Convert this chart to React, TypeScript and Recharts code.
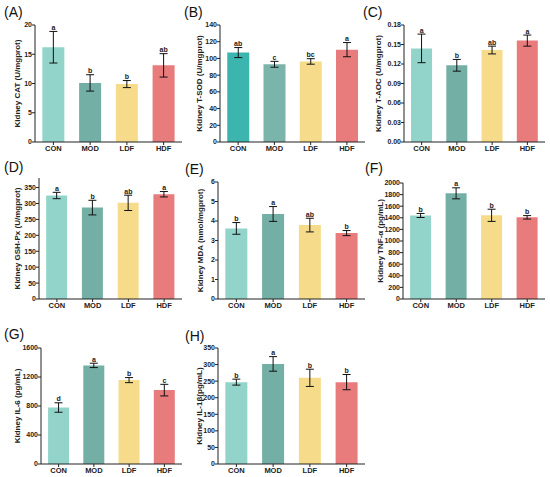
import { ComposedChart, Bar, Line, XAxis, YAxis, ErrorBar, LabelList, Cell } from 'recharts'

const groups = ['CON', 'MOD', 'LDF', 'HDF']

// (A) CAT
const catMean = [16.2, 10.1, 9.9, 13.1]
const catSd = [2.7, 1.4, 0.6, 2.0]
const catSig = ['a', 'b', 'b', 'ab']
const catTicks = [0, 5, 10, 15, 20]

// (B) T-SOD
const sodMean = [107, 93, 96.4, 110.5]
const sodSd = [6, 3.5, 3.3, 8.5]
const sodSig = ['ab', 'c', 'bc', 'a']
const sodTicks = [0, 20, 40, 60, 80, 100, 120, 140]

// (C) T-AOC
const aocMean = [0.144, 0.118, 0.1415, 0.156]
const aocSd = [0.022, 0.009, 0.006, 0.0085]
const aocSig = ['a', 'b', 'ab', 'a']
const aocTicks = [0, 0.03, 0.06, 0.09, 0.12, 0.15, 0.18]

// (D) GSH-Px
const gshMean = [325, 287, 302, 329]
const gshSd = [10, 23, 24, 8.5]
const gshSig = ['a', 'b', 'ab', 'a']
const gshTicks = [0, 50, 100, 150, 200, 250, 300, 350]

// (E) MDA
const mdaMean = [3.62, 4.36, 3.79, 3.38]
const mdaSd = [0.3, 0.38, 0.35, 0.13]
const mdaSig = ['b', 'a', 'ab', 'b']
const mdaTicks = [0, 1, 2, 3, 4, 5, 6]

// (F) TNF-α
const tnfMean = [1440, 1822, 1443, 1408]
const tnfSd = [35, 95, 105, 30]
const tnfSig = ['b', 'a', 'b', 'b']
const tnfTicks = [0, 200, 400, 600, 800, 1000, 1200, 1400, 1600, 1800, 2000]

// (G) IL-6
const il6Mean = [779, 1360, 1157, 1019]
const il6Sd = [65, 30, 35, 80]
const il6Sig = ['d', 'a', 'b', 'c']
const il6Ticks = [0, 400, 800, 1200, 1600]

// (H) IL-1β
const il1Mean = [247, 302, 260, 247]
const il1Sd = [9, 22, 26, 23]
const il1Sig = ['b', 'a', 'b', 'b']
const il1Ticks = [0, 50, 100, 150, 200, 250, 300, 350]

const palette = ['#93d4ca', '#74afa5', '#f6dc8a', '#e87b7b']
const paletteB = ['#3bb5ae', '#7ab4aa', '#f6dc8a', '#e87b7b']

const ink = '#222'

const panels = [
  { title: '(A)', tx: 4, ty: 17, label: 'Kidney CAT (U/mgprot)', mean: catMean, sd: catSd, sig: catSig, ticks: catTicks, max: 20,
    x0: 35, x1: 182, yTop: 25, yBot: 142, labelX: 17, colors: palette },
  { title: '(B)', tx: 184, ty: 17, label: 'Kidney T-SOD (U/mgprot)', mean: sodMean, sd: sodSd, sig: sodSig, ticks: sodTicks, max: 140,
    x0: 220, x1: 365, yTop: 25, yBot: 142, labelX: 199, colors: paletteB },
  { title: '(C)', tx: 363, ty: 17, label: 'Kidney T-AOC (U/mgprot)', mean: aocMean, sd: aocSd, sig: aocSig, ticks: aocTicks, max: 0.18,
    x0: 404, x1: 545, yTop: 25, yBot: 142, labelX: 378, colors: palette, fmt: (v: number) => v.toFixed(2) },
  { title: '(D)', tx: 4, ty: 172, label: 'Kidney GSH-Px (U/mgprot)', mean: gshMean, sd: gshSd, sig: gshSig, ticks: gshTicks, max: 380,
    x0: 39, x1: 182, yTop: 178, yBot: 299, labelX: 17, colors: palette },
  { title: '(E)', tx: 185, ty: 174, label: 'Kidney MDA (nmol/mgprot)', mean: mdaMean, sd: mdaSd, sig: mdaSig, ticks: mdaTicks, max: 6,
    x0: 218, x1: 365, yTop: 182, yBot: 299, labelX: 200, colors: palette },
  { title: '(F)', tx: 365, ty: 173, label: 'Kidney TNF-α (pg/mL)', mean: tnfMean, sd: tnfSd, sig: tnfSig, ticks: tnfTicks, max: 2000,
    x0: 403, x1: 545, yTop: 183, yBot: 299, labelX: 380, colors: palette },
  { title: '(G)', tx: 4, ty: 339, label: 'Kidney IL-6 (pg/mL)', mean: il6Mean, sd: il6Sd, sig: il6Sig, ticks: il6Ticks, max: 1600,
    x0: 41, x1: 182, yTop: 348, yBot: 464, labelX: 17, colors: palette },
  { title: '(H)', tx: 185, ty: 341, label: 'Kidney IL-1β(pg/mL)', mean: il1Mean, sd: il1Sd, sig: il1Sig, ticks: il1Ticks, max: 350,
    x0: 218, x1: 365, yTop: 348, yBot: 464, labelX: 199, colors: palette },
]

// significance letter just above the top of the error bar
function SigLetter(props: any) {
  const { x, y, value } = props
  return (
    <text x={x} y={y - 1.5} textAnchor="middle" fontSize={7} fontWeight={700} fill={ink}>
      {value}
    </text>
  )
}

function Panel({ p }: { p: any }) {
  const left = p.labelX - 10
  const top = p.yTop - 8
  const yw = p.x0 - left
  const W = yw + (p.x1 - p.x0) + 2
  const H = 8 + (p.yBot - p.yTop) + 16
  const data = groups.map((g, i) => ({
    name: g,
    mean: p.mean[i],
    sd: p.sd[i],
    top: p.mean[i] + p.sd[i],
    sig: p.sig[i],
  }))

  return (
    <div style={{ position: 'absolute', left, top }}>
      <ComposedChart width={W} height={H} data={data} margin={{ top: 8, right: 2, bottom: 0, left: 0 }} barCategoryGap="20%">
        <XAxis
          dataKey="name"
          height={16}
          tickSize={3}
          tickMargin={1}
          interval={0}
          axisLine={{ stroke: ink }}
          tickLine={{ stroke: ink }}
          tick={{ fontSize: 7.5, fontWeight: 700, fill: ink }}
        />
        <YAxis
          width={yw}
          domain={[0, p.max]}
          ticks={p.ticks}
          interval={0}
          tickFormatter={p.fmt}
          tickSize={3}
          tickMargin={0}
          axisLine={{ stroke: ink }}
          tickLine={{ stroke: ink }}
          tick={{ fontSize: 7, fontWeight: 700, fill: ink }}
          label={{
            value: p.label,
            angle: -90,
            position: 'insideLeft',
            offset: 10,
            fill: ink,
            fontSize: 8,
            fontWeight: 700,
            style: { textAnchor: 'middle' },
          }}
        />
        <Bar dataKey="mean" isAnimationActive={false}>
          {data.map((d, i) => (
            <Cell key={d.name} fill={p.colors[i]} />
          ))}
          <ErrorBar dataKey="sd" width={4} stroke="#111" strokeWidth={1} direction="y" />
        </Bar>
        <Line dataKey="top" stroke="none" dot={false} activeDot={false} legendType="none" isAnimationActive={false}>
          <LabelList dataKey="sig" content={<SigLetter />} />
        </Line>
      </ComposedChart>
    </div>
  )
}

export default function App() {
  return (
    <div
      style={{
        position: 'absolute',
        left: 0,
        top: 0,
        width: 550,
        height: 477,
        background: '#fff',
        fontFamily: '"Liberation Sans", Arial, sans-serif',
      }}
    >
      {panels.map((p) => (
        <Panel key={p.title} p={p} />
      ))}
      <svg width={550} height={477} style={{ position: 'absolute', left: 0, top: 0, pointerEvents: 'none' }}>
        {panels.map((p) => (
          <text key={p.title} x={p.tx} y={p.ty} fontSize={14} fill="#111">
            {p.title}
          </text>
        ))}
      </svg>
    </div>
  )
}
